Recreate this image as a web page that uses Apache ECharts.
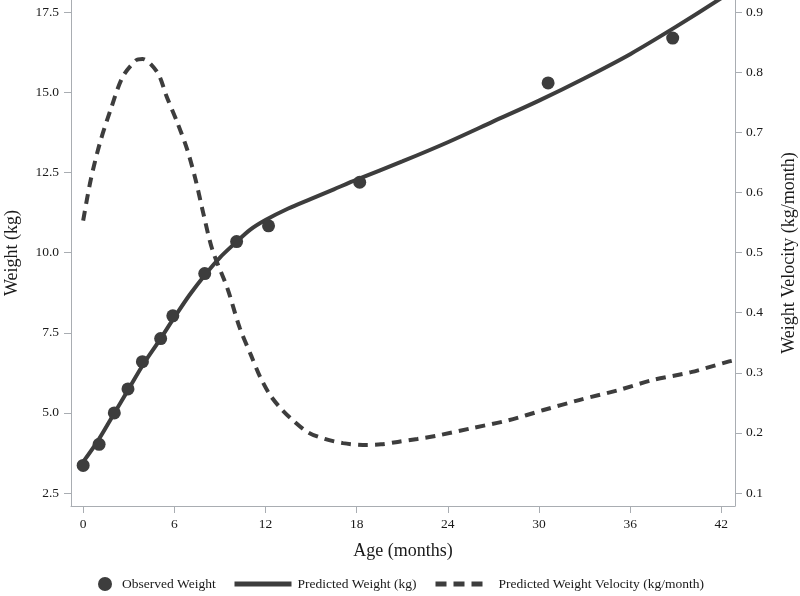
<!DOCTYPE html>
<html>
<head>
<meta charset="utf-8">
<script src="https://cdn.jsdelivr.net/npm/echarts@6/dist/echarts.min.js"></script>
<style>html,body{margin:0;padding:0;background:#fff;}#c{width:800px;height:596px;}</style>
</head>
<body>
<div id="c"></div>
<script>
// Observed weight
var ageObs = [0, 1.05, 2.05, 2.95, 3.9, 5.1, 5.9, 8.0, 10.1, 12.2, 18.2, 30.6, 38.8];
var weightObs = [3.36, 4.02, 5.0, 5.75, 6.6, 7.32, 8.03, 9.35, 10.35, 10.84, 12.2, 15.3, 16.7];
// Predicted weight (kg)
var ageFit = [0, 1, 2, 3, 4, 5, 6, 7, 8, 9, 10, 11, 12, 13.5, 15, 16.5, 18, 21, 24, 27, 30, 33, 36, 39, 42, 42.9];
var weightFit = [3.47, 4.15, 4.95, 5.75, 6.55, 7.25, 7.98, 8.68, 9.3, 9.85, 10.3, 10.72, 11.02, 11.38, 11.68, 11.98, 12.28, 12.85, 13.45, 14.1, 14.75, 15.45, 16.2, 17.05, 17.95, 18.25];
// Predicted weight velocity (kg/month)
var ageVel = [0, 0.5, 1.1, 1.8, 2.6, 3.5, 3.9, 4.9, 5.5, 6.2, 6.85, 7.4, 7.9, 8.5, 9.5, 10.3, 11.1, 11.65, 12.3, 13.0, 13.8, 14.8, 15.9, 17.1, 18.4, 19.6, 20.7, 22.0, 23.2, 25.6, 28.0, 30.3, 32.7, 35.2, 37.5, 40.0, 42.4, 42.9];
var velocity = [0.553, 0.621, 0.682, 0.737, 0.792, 0.820, 0.822, 0.799, 0.759, 0.716, 0.671, 0.621, 0.566, 0.505, 0.44, 0.375, 0.326, 0.293, 0.263, 0.241, 0.221, 0.201, 0.190, 0.183, 0.180, 0.181, 0.185, 0.190, 0.195, 0.208, 0.221, 0.238, 0.255, 0.271, 0.288, 0.301, 0.318, 0.321];
// Tick labels
var xTicks = [0, 6, 12, 18, 24, 30, 36, 42];
var weightTicks = [2.5, 5.0, 7.5, 10.0, 12.5, 15.0, 17.5];
var velTicks = [0.1, 0.2, 0.3, 0.4, 0.5, 0.6, 0.7, 0.8, 0.9];

var names = ['Observed Weight', 'Predicted Weight (kg)', 'Predicted Weight Velocity (kg/month)'];

function pairs(xs, ys) { return xs.map(function (x, i) { return [x, ys[i]]; }); }

var FONT = '"Liberation Serif", "DejaVu Serif", serif';
var INK = '#3d3d3d';
var AXC = '#a9adb2';
var TXT = '#1a1a1a';

var axisCommon = function () {
  return {
    axisLine: { show: true, onZero: false, lineStyle: { color: AXC, width: 1 } },
    axisTick: { show: true, length: 7, lineStyle: { color: AXC } },
    splitLine: { show: false },
    nameTextStyle: { fontFamily: FONT, fontSize: 18, color: TXT },
    axisLabel: { fontFamily: FONT, fontSize: 13.5, color: TXT }
  };
};

var xAx = axisCommon();
Object.assign(xAx, {
  type: 'value', min: -0.8, max: 42.9,
  name: 'Age (months)', nameLocation: 'middle', nameGap: 36
});
xAx.axisTick.customValues = xTicks;
xAx.axisLabel.customValues = xTicks;
xAx.axisLabel.margin = 11;

var yL = axisCommon();
Object.assign(yL, {
  type: 'value', min: 2.094, max: 17.89, position: 'left',
  name: 'Weight (kg)', nameLocation: 'middle', nameGap: 50
});
yL.axisTick.customValues = weightTicks;
yL.axisLabel.customValues = weightTicks;
yL.axisLabel.margin = 12;
yL.axisLabel.formatter = function (v) { return v.toFixed(1); };

var yR = axisCommon();
Object.assign(yR, {
  type: 'value', min: 0.0784, max: 0.920, position: 'right',
  name: 'Weight Velocity (kg/month)', nameLocation: 'middle', nameGap: 45
});
yR.axisTick.customValues = velTicks;
yR.axisLabel.customValues = velTicks;
yR.axisLabel.margin = 11;
yR.axisLabel.formatter = function (v) { return v.toFixed(1); };

var legendText = { fontFamily: FONT, fontSize: 13.5, color: TXT };

var chart = echarts.init(document.getElementById('c'), null, { renderer: 'canvas' });
chart.setOption({
  animation: false,
  backgroundColor: '#fff',
  grid: { left: 71, right: 65, top: 0, bottom: 90, containLabel: false, outerBoundsMode: 'none' },
  xAxis: xAx,
  yAxis: [yL, yR],
  legend: [
    { data: [names[0]], left: 98, top: 577, padding: 0, icon: 'circle', itemWidth: 14, itemHeight: 14,
      textStyle: Object.assign({ padding: [0, 0, 0, 5] }, legendText) },
    { data: [names[1]], left: 232, top: 577, padding: 0, itemWidth: 57, itemHeight: 14,
      itemStyle: { opacity: 0 }, lineStyle: { width: 5, color: INK },
      textStyle: Object.assign({ padding: [0, 0, 0, 1] }, legendText) },
    { data: [names[2]], left: 433, top: 577, padding: 0, itemWidth: 48, itemHeight: 14,
      itemStyle: { opacity: 0 }, lineStyle: { width: 5, color: INK, type: [11, 7] },
      textStyle: Object.assign({ padding: [0, 0, 0, 10] }, legendText) }
  ],
  series: [
    {
      name: names[1], type: 'line', yAxisIndex: 0, data: pairs(ageFit, weightFit),
      smooth: 0.3, symbol: 'none', showSymbol: false,
      lineStyle: { color: INK, width: 4 }, itemStyle: { color: INK }, z: 2
    },
    {
      name: names[2], type: 'line', yAxisIndex: 1, data: pairs(ageVel, velocity),
      smooth: 0.3, symbol: 'none', showSymbol: false,
      lineStyle: { color: INK, width: 4, type: [10, 7] }, itemStyle: { color: INK }, z: 2
    },
    {
      name: names[0], type: 'scatter', yAxisIndex: 0, data: pairs(ageObs, weightObs),
      symbol: 'circle', symbolSize: 13, itemStyle: { color: INK, opacity: 1 }, z: 3
    }
  ]
});
</script>
</body>
</html>
